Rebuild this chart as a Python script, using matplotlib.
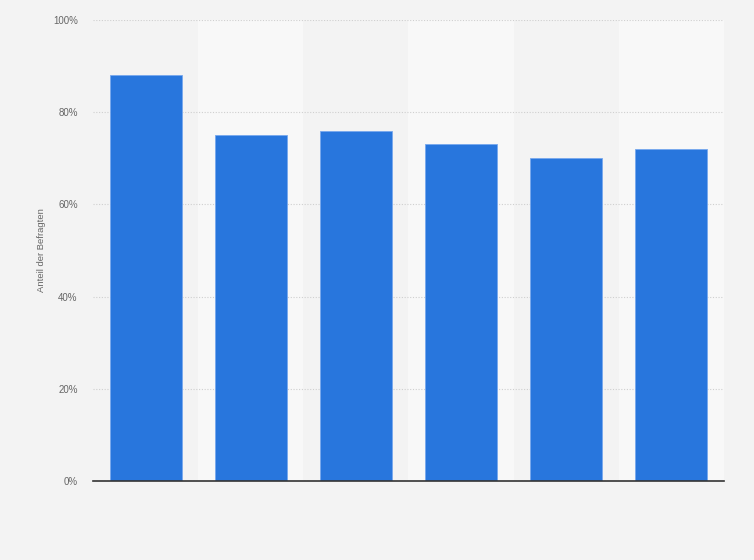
import matplotlib
matplotlib.use("Agg")
import matplotlib.pyplot as plt
from matplotlib.ticker import FuncFormatter

categories = ["1", "2", "3", "4", "5", "6"]
values = [88, 75, 76, 73, 70, 72]
yticks = [0, 20, 40, 60, 80, 100]

plt.rcParams['font.family'] = ['Liberation Sans', 'DejaVu Sans']

fig = plt.figure(figsize=(7.54, 5.60), dpi=100, facecolor="#f3f3f3")
ax = fig.add_axes([93/754, 79/560, 631/754, 461/560])
ax.set_facecolor("#f3f3f3")

n = len(categories)
x = list(range(n))
for i in x:
    if i % 2 == 1:
        ax.axvspan(i - 0.5, i + 0.5, ymin=0, ymax=1, color="#f8f8f8", zorder=0, lw=0)

ax.bar(x, values, width=0.685, color="#2876dd", edgecolor="#77a8ee", linewidth=0.6, zorder=3)

ax.set_xlim(-0.5, n - 0.5)
ax.set_ylim(0, 100)
ax.set_yticks(yticks)
ax.yaxis.set_major_formatter(FuncFormatter(lambda v, p: f"{int(v)}%"))
ax.set_xticks([])
ax.grid(axis="y", color="#cfcfcf", linestyle=(0, (1, 1.5)), linewidth=0.8, zorder=1)
ax.tick_params(axis="y", length=0, pad=11, labelsize=7, labelcolor="#666666")
for s in ["top", "right", "left"]:
    ax.spines[s].set_visible(False)
ax.spines["bottom"].set_color("#333333")
ax.spines["bottom"].set_linewidth(1.2)
ax.spines["bottom"].set_zorder(4)

ax.set_ylabel("Anteil der Befragten", fontsize=6.8, color="#666666", labelpad=5)

fig.savefig("out.png", dpi=100, facecolor=fig.get_facecolor())
